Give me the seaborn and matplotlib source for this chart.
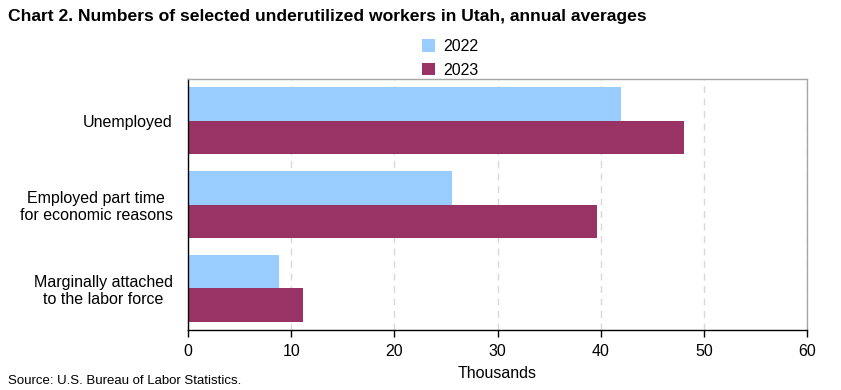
import matplotlib
matplotlib.use("Agg")
import matplotlib.pyplot as plt
import seaborn as sns
import pandas as pd
from matplotlib.patches import Patch

categories = ["Unemployed", "Employed part time\nfor economic reasons", "Marginally attached\nto the labor force"]
years = ["2022", "2023"]
values_2022 = [42.0, 25.6, 8.8]
values_2023 = [48.1, 39.6, 11.1]
colors = ["#99CCFF", "#993366"]

df = pd.DataFrame({
    "category": categories * 2,
    "year": [years[0]] * 3 + [years[1]] * 3,
    "value": values_2022 + values_2023,
})

sns.set_style("white")
plt.rcParams["font.family"] = ["Liberation Sans", "DejaVu Sans"]
plt.rcParams["text.color"] = "black"
plt.rcParams["axes.labelcolor"] = "black"
plt.rcParams["xtick.color"] = "black"
plt.rcParams["ytick.color"] = "black"

fig = plt.figure(figsize=(8.41, 3.90), dpi=100)
ax = fig.add_axes([188/841, 60/390, (807-188)/841, (330-79)/390])

sns.barplot(data=df, y="category", x="value", hue="year", orient="h",
            palette=colors, width=0.80, saturation=1, linewidth=0,
            ax=ax, legend=False)

ax.set_xlim(0, 60)
ax.set_ylim(2.5, -0.5)
ax.set_xticks(range(0, 61, 10))
ax.set_xlabel("Thousands", fontsize=11.5, labelpad=5)
ax.set_ylabel("")
ax.tick_params(axis="x", labelsize=11.5, direction="out", length=5, width=1,
               color="black", bottom=True, pad=5)
ax.tick_params(axis="y", labelsize=11.5, length=0, pad=11)
for lbl in ax.get_yticklabels():
    lbl.set_horizontalalignment("right")
    lbl.set_multialignment("center")
ax.grid(axis="x", linestyle=(0, (5, 4)), color="#d9d9d9", linewidth=1)
ax.set_axisbelow(True)
for s in ["left", "bottom"]:
    ax.spines[s].set_color("black")
    ax.spines[s].set_linewidth(1)
for s in ["top", "right"]:
    ax.spines[s].set_color("#a6a6a6")
    ax.spines[s].set_linewidth(1)

handles = [Patch(facecolor=c, edgecolor="none") for c in colors]
fig.legend(handles, years, loc="upper left", bbox_to_anchor=(414/841, 1 - 31/390),
           frameon=False, fontsize=11.5, handlelength=0.8, handleheight=0.8,
           handletextpad=0.5, labelspacing=0.55, borderpad=0)

fig.text(8/841, 1 - 17/390, "Chart 2. Numbers of selected underutilized workers in Utah, annual averages",
         fontsize=12.6, fontweight="bold", va="center", ha="left")
fig.text(8/841, 1 - 381/390, "Source: U.S. Bureau of Labor Statistics.", fontsize=9.5,
         va="center", ha="left")

fig.savefig("out.png", dpi=100)
